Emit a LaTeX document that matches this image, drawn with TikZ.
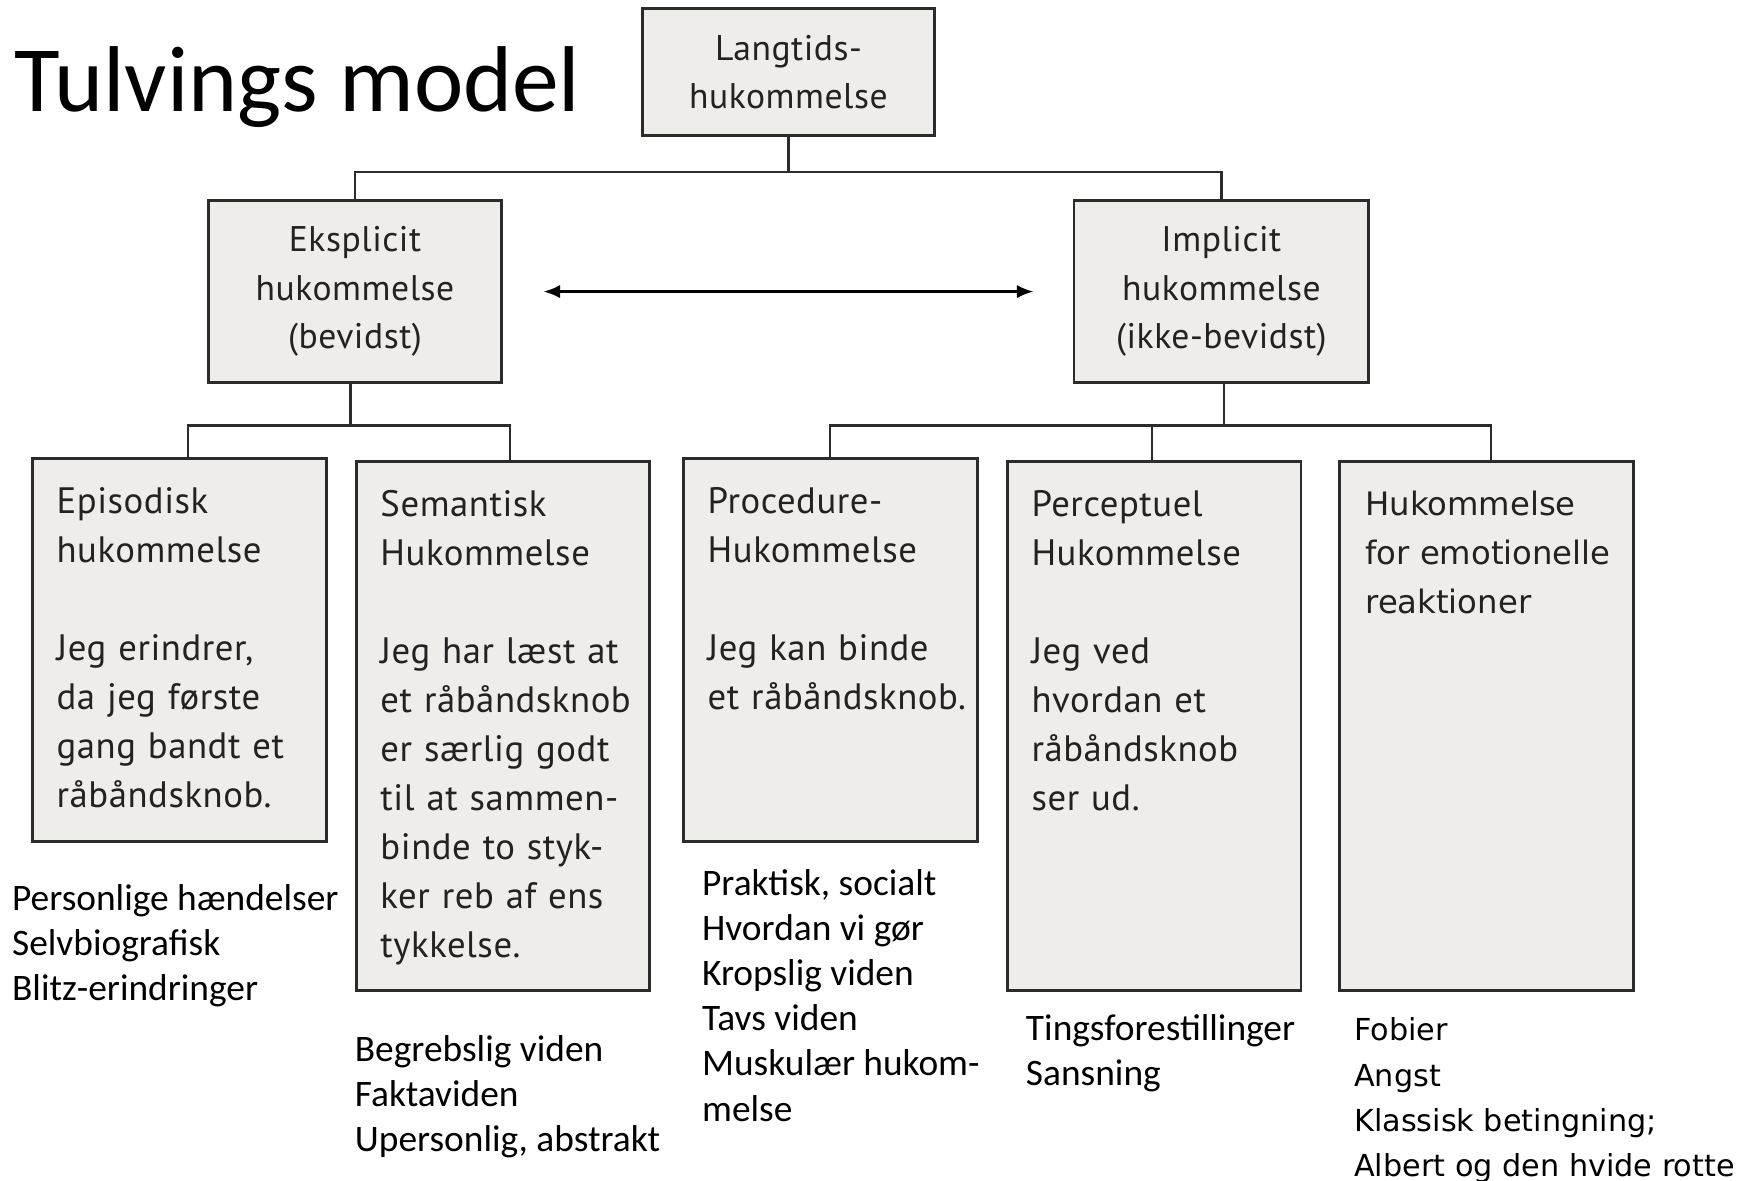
\documentclass[tikz,border=0pt]{standalone}
\usepackage{fontspec}
\usetikzlibrary{arrows.meta,calc}
\setmainfont{Carlito}
\newfontfamily\boxfont[LetterSpace=1.5, WordSpace=1.15]{PT Sans}
\newfontfamily\emofont{DejaVu Sans}
\definecolor{boxgray}{HTML}{EEEDE9}
\definecolor{boxline}{HTML}{2B2B2B}
\definecolor{boxink}{HTML}{222222}

\tikzset{
  membox/.style={draw=boxline, fill=boxgray, line width=2.6pt, inner sep=0pt,
    minimum width=264pt},
  headtext/.style={text=boxink, align=center, inner sep=0pt,
    font=\boxfont\fontsize{32}{43.5}\selectfont},
  memtext/.style={text=boxink, align=left, inner sep=0pt, anchor=north west,
    font=\boxfont\fontsize{33}{44}\selectfont},
  emotext/.style={memtext, font=\emofont\fontsize{29}{44}\selectfont},
  notetext/.style={align=left, inner sep=0pt, anchor=north west,
    font=\fontsize{33.6}{40.5}\selectfont},
  emonote/.style={notetext, font=\emofont\fontsize{27.2}{40.7}\selectfont},
  tree/.style={draw=boxline, line width=2pt},
}

\begin{document}
\begin{tikzpicture}[x=1pt, y=-1pt, >={Latex[length=15pt, width=12pt]}, line join=miter]

\useasboundingbox (0,0) rectangle (1568,1061);

%==================================================
% Title
%==================================================
\node[anchor=base west, inner sep=0pt, font=\fontsize{84}{90}\selectfont]
  (title) at (13,100) {Tulvings model};

%==================================================
% Top and second level boxes
%==================================================
\node[membox, minimum width=263pt, minimum height=114pt] (top) at (708.5,65) {};
\node[headtext] (toptxt) at (top) {Langtids-\\hukommelse};

\node[membox, minimum height=164pt] (expl) at (319,262) {};
\node[headtext] (expltxt) at (expl) {Eksplicit\\hukommelse\\(bevidst)};

\node[membox, minimum width=265pt, minimum height=164pt] (impl) at (1097.5,262) {};
\node[headtext] (impltxt) at (impl) {Implicit\\hukommelse\\(ikke-bevidst)};

% explicit <-> implicit
\draw[<->, line width=2.4pt, shorten <=36pt, shorten >=35pt] (expl) -- (impl);

%==================================================
% Third level boxes
%==================================================
\node[membox, minimum height=344pt] (epi)  at (161,584)    {};
\node[membox, minimum height=475pt] (sem)  at (452,652.5)  {};
\node[membox, minimum height=344pt] (proc) at (746,584)    {};
\node[membox, minimum height=475pt] (perc) at (1037,652.5) {};
\node[membox, minimum height=475pt] (emo)  at (1336,652.5) {};

% Box texts
\node[memtext] (epitxt) at ($(epi.north west)+(23,27)$)
  {Episodisk\\hukommelse\\[44pt]Jeg erindrer,\\da jeg første\\gang bandt et\\råbåndsknob.};
\node[memtext] (semtxt) at ($(sem.north west)+(23,27)$)
  {Semantisk\\Hukommelse\\[44pt]Jeg har læst at\\et råbåndsknob\\er særlig godt\\til at sammen-\\binde to styk-\\ker reb af ens\\tykkelse.};
\node[memtext] (proctxt) at ($(proc.north west)+(23,27)$)
  {Procedure-\\Hukommelse\\[44pt]Jeg kan binde\\et råbåndsknob.};
\node[memtext] (perctxt) at ($(perc.north west)+(23,27)$)
  {Perceptuel\\Hukommelse\\[44pt]Jeg ved\\hvordan et\\råbåndsknob\\ser ud.};
\node[emotext] (emotxt) at ($(emo.north west)+(24,27)$)
  {Hukommelse\\for emotionelle\\reaktioner};

%==================================================
% Tree connectors
%==================================================
\coordinate (jtop) at ($(top.south)+(0,31)$);
\draw[tree] (top.south) -- (jtop);
\draw[tree] (jtop) -| (expl.north);
\draw[tree] (jtop) -| (impl.north);

\coordinate (jexp) at ($(expl.south)+(-4,37)$);
\draw[tree] ($(expl.south)+(-4,0)$) -- (jexp);
\draw[tree] (jexp) -| ($(epi.north)+(8,0)$);
\draw[tree] (jexp) -| ($(sem.north)+(6,0)$);

\coordinate (jimp) at ($(impl.south)+(2,37)$);
\draw[tree] ($(impl.south)+(2,0)$) -- (jimp);
\foreach \b/\dx in {proc/0, perc/-2, emo/4}{
  \draw[tree] (jimp) -| ($(\b.north)+(\dx,0)$);
}

%==================================================
% Notes below the boxes
%==================================================
\node[notetext] (epinote) at ($(epi.south west)+(-17,37)$)
  {Personlige hændelser\\Selvbiografisk\\Blitz-erindringer};
\node[notetext] (semnote) at ($(sem.south west)+(0,39)$)
  {Begrebslig viden\\Faktaviden\\Upersonlig, abstrakt};
\node[notetext] (procnote) at ($(proc.south west)+(18,24)$)
  {Praktisk, socialt\\Hvordan vi gør\\Kropslig viden\\Tavs viden\\Muskulær hukom-\\melse};
\node[notetext] (percnote) at ($(perc.south west)+(18,20)$)
  {Tingsforestillinger\\Sansning};
\node[emonote] (emonote) at ($(emo.south west)+(14,23)$)
  {Fobier\\Angst\\Klassisk betingning;\\Albert og den hvide rotte};

\end{tikzpicture}
\end{document}
